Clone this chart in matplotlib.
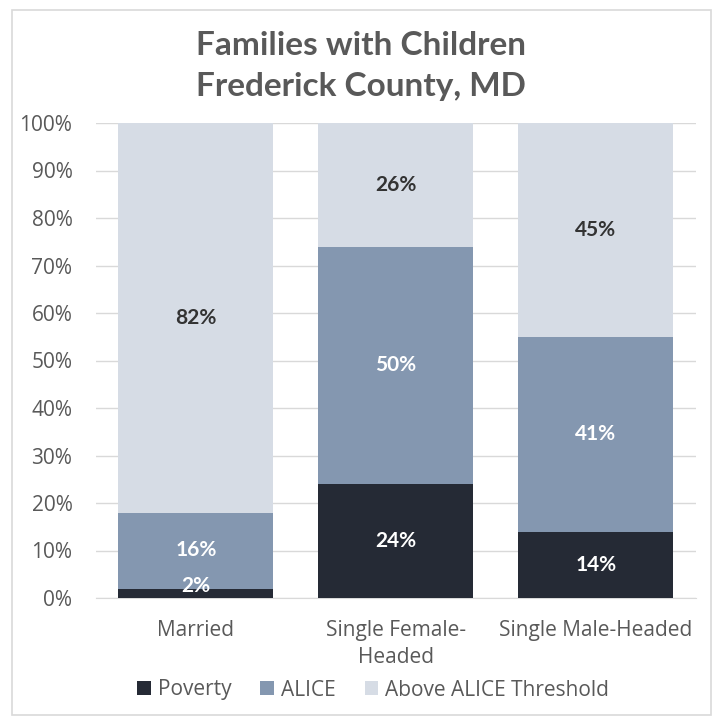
import numpy as np
import matplotlib.pyplot as plt
from matplotlib.patches import Rectangle

plt.rcParams['font.family'] = ['Open Sans', 'DejaVu Sans']

# data
categories = ["Married", "Single Female-\nHeaded", "Single Male-Headed"]
poverty = [2, 24, 14]
alice = [16, 50, 41]
above = [82, 26, 45]
series_names = ["Poverty", "ALICE", "Above ALICE Threshold"]
colors = ["#252A35", "#8497B0", "#D6DCE5"]
label_colors = ["white", "white", "#333333"]

fig = plt.figure(figsize=(7.22, 7.26), dpi=100)
ax = fig.add_axes([96/722, 1-598/726, 600/722, 475/726])

# outer chart border
fig.patches.append(Rectangle((12/722, 11/726), 699/722, 705/726, transform=fig.transFigure,
                             fill=False, edgecolor="#D9D9D9", linewidth=1.2))

x = np.arange(len(categories))
width = 0.775
bottom = np.zeros(len(categories))
for vals, name, col, lc in zip([poverty, alice, above], series_names, colors, label_colors):
    vals = np.array(vals, dtype=float)
    ax.bar(x, vals, width, bottom=bottom, color=col, label=name, zorder=3)
    for xi, b, v in zip(x, bottom, vals):
        y = b + v / 2
        if v < 4:
            y = b + v + 0.6
        ax.text(xi, y, f"{int(v)}%", ha="center", va="center", color=lc,
                fontsize=15, fontweight="bold", family=["Lato", "DejaVu Sans"], zorder=4)
    bottom += vals

ax.set_xlim(-0.5, 2.5)
ax.set_ylim(0, 100)
ax.set_yticks(np.arange(0, 101, 10))
ax.set_yticklabels([f"{t}%" for t in range(0, 101, 10)])
ax.set_xticks(x)
ax.set_xticklabels(categories, linespacing=1.35)
ax.yaxis.grid(True, color="#D9D9D9", linewidth=1, zorder=0)
ax.tick_params(axis="both", length=0, labelsize=15, labelcolor="#595959")
ax.tick_params(axis="y", pad=17)
ax.tick_params(axis="x", pad=16)
for s in ["top", "right", "left"]:
    ax.spines[s].set_visible(False)
ax.spines["bottom"].set_color("#D9D9D9")

fig.text(0.5, 1-66/726, "Families with Children\nFrederick County, MD", ha="center", va="center",
         fontsize=24, fontweight="bold", color="#595959", linespacing=1.5,
         family=["Lato", "DejaVu Sans"])

leg = fig.legend(loc="center", bbox_to_anchor=(373/722, 1-690/726), ncol=3, frameon=False,
                 fontsize=15, handlelength=0.67, handleheight=0.67, handletextpad=0.3,
                 columnspacing=1.4)
for t in leg.get_texts():
    t.set_color("#595959")

fig.savefig("out.png", dpi=100)
